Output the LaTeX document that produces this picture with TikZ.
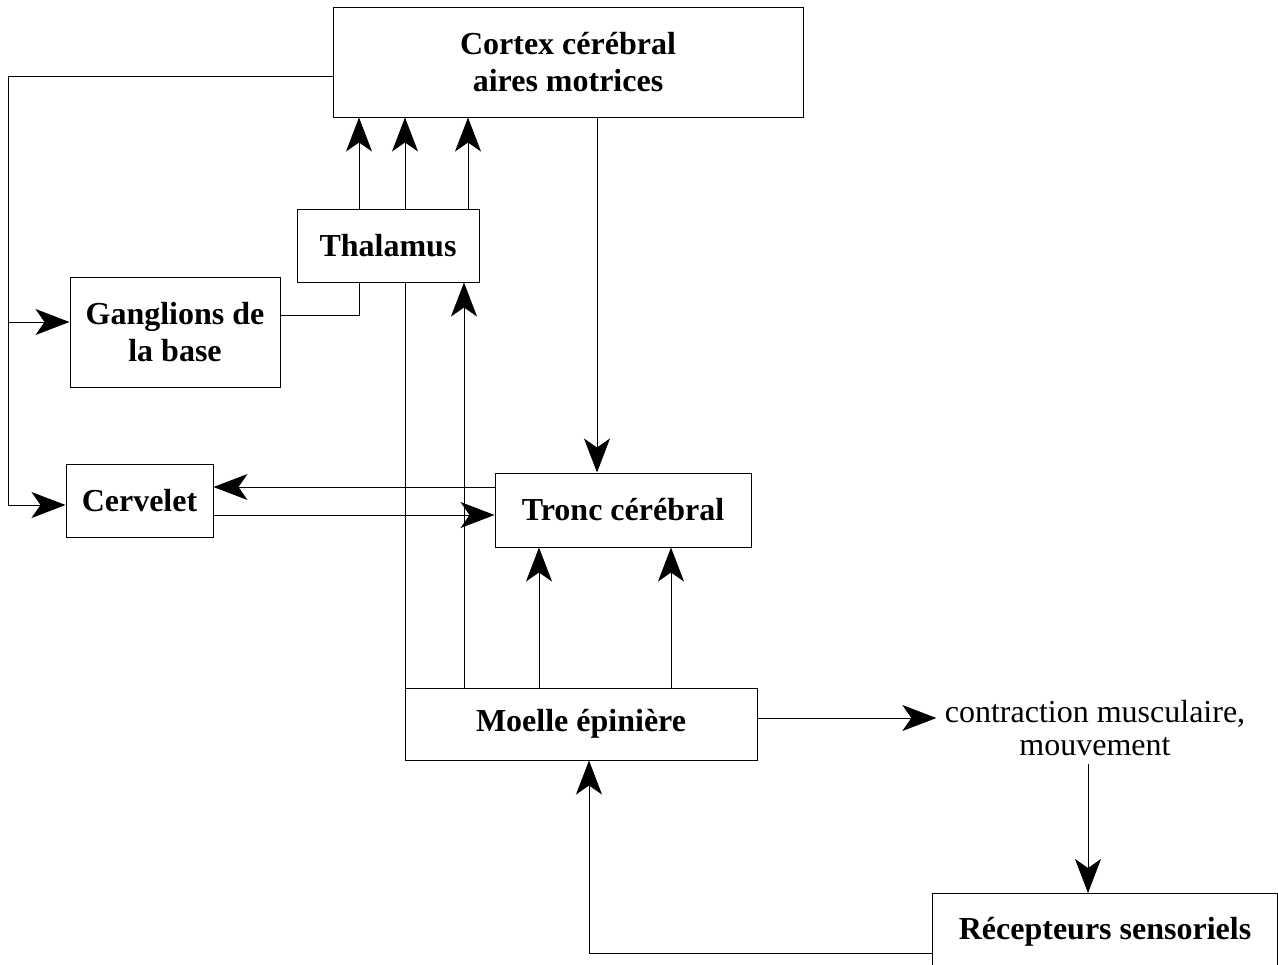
\documentclass[tikz,border=0pt]{standalone}
\usepackage{fontspec}
\setmainfont{Liberation Serif}
\usetikzlibrary{arrows.meta}

\tikzset{
  bloc/.style={draw, line width=.5pt, align=center, font=\bfseries\fontsize{16}{18.5}\selectfont},
  fleche/.style={-{Stealth[length=17pt,width=13pt,inset=4.5pt]}}
}

\begin{document}
\begin{tikzpicture}[x=.5pt,y=-.5pt,line width=.5pt]
  \path[use as bounding box,clip] (0,0) rectangle (1278,964);
  % boxes
  \node[bloc,minimum width=235pt,minimum height=55pt] (cortex) at (568,62)
    {Cortex cérébral\\aires motrices};
  \node[bloc,minimum width=91pt,minimum height=36.5pt] (thal) at (388,245.5) {Thalamus};
  \node[bloc,minimum width=105pt,minimum height=55pt] (gang) at (175,332)
    {Ganglions de\\la base};
  \node[bloc,minimum width=73.5pt,minimum height=36.5pt] (cerv) at (139.5,500.5) {Cervelet};
  \node[bloc,minimum width=128pt,minimum height=37pt] (tronc) at (623,510) {Tronc cérébral};
  \node[bloc,minimum width=176pt,minimum height=36pt] (moelle) at (581,724) {Moelle épinière};
  \node[align=center,inner sep=4pt,font=\fontsize{16}{16.5}\selectfont] (contr) at (1095,728)
    {contraction musculaire,\\mouvement};
  \node[bloc,minimum width=172.5pt,minimum height=38pt,anchor=north west] (recept) at (932,893)
    {Récepteurs sensoriels};
  % connectors
  \foreach \x in {359,405,468}
    \draw[fleche] (\x,0 |- thal.north) -- (\x,0 |- cortex.south);
  \draw ([yshift=8.5pt]gang.east) -| (359,0 |- thal.south);
  \coordinate (bus) at (8,0);
  \coordinate (bg) at ([yshift=5pt]gang.west);
  \coordinate (bc) at ([yshift=-2.25pt]cerv.west);
  \draw ([yshift=-7pt]cortex.west) -| (bus |- bc);
  \draw[fleche] (bus |- bg) -- (bg);
  \draw[fleche] (bus |- bc) -- (bc);
  \coordinate (tc) at ([yshift=11.5pt]tronc.west);
  \draw[fleche] (tc) -- (tc -| cerv.east);
  \coordinate (ct) at ([yshift=-7.25pt]cerv.east);
  \draw[fleche] (ct) -- (ct -| tronc.west);
  \draw[fleche] (597,0 |- cortex.south) -- (597,0 |- tronc.north);
  \draw (405,0 |- thal.south) -- (405,0 |- moelle.north);
  \draw[fleche] (464,0 |- moelle.north) -- (464,0 |- thal.south);
  \foreach \x in {539,671}
    \draw[fleche] (\x,0 |- moelle.north) -- (\x,0 |- tronc.south);
  \draw[fleche] ([yshift=3pt]moelle.east) -- ([yshift=3pt]moelle.east -| contr.west);
  \draw[fleche] (contr.south -| 1088,0) -- (1088,0 |- recept.north);
  \coordinate (rm) at ([yshift=-11pt]recept.west);
  \draw[fleche] (rm) -| (589,0 |- moelle.south);
\end{tikzpicture}
\end{document}
